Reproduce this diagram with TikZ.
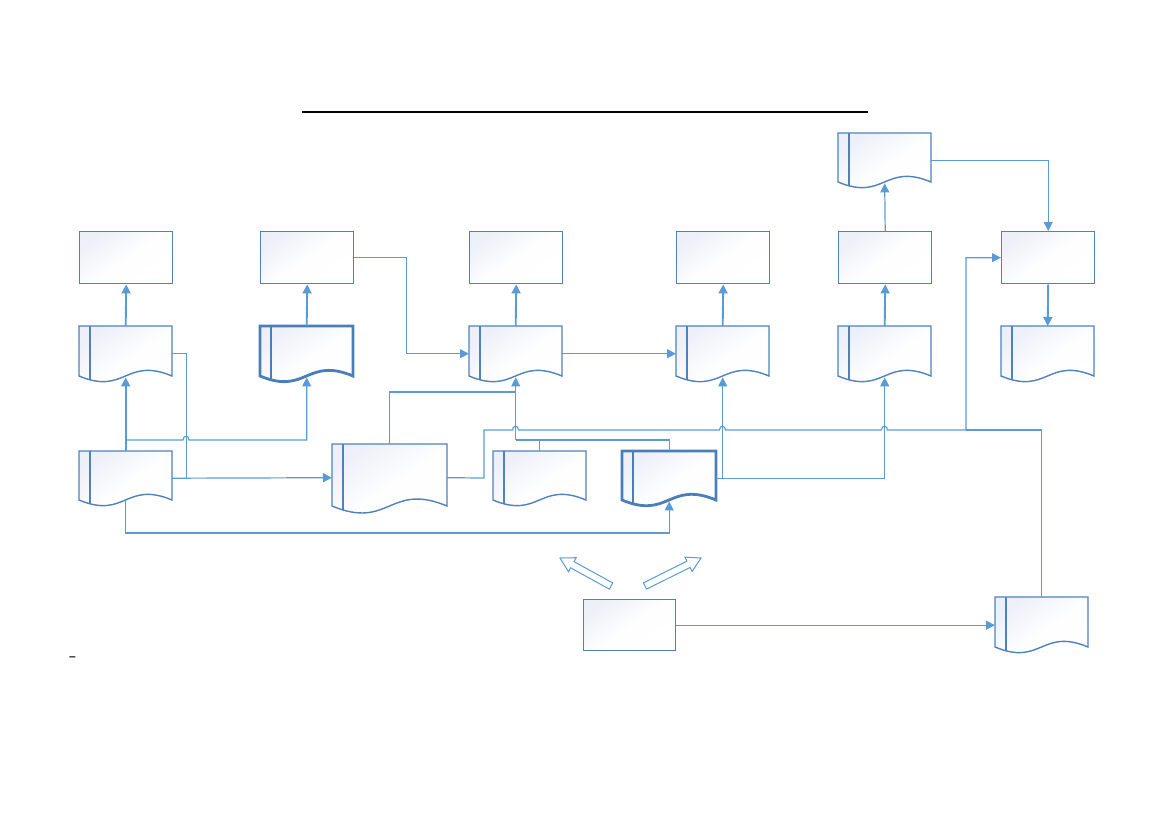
\documentclass[tikz,border=0pt]{standalone}
\usetikzlibrary{arrows.meta,calc}
\definecolor{lineblue}{HTML}{5B9BD5}
\definecolor{boxblue}{HTML}{4F81BD}
\definecolor{boldblue}{HTML}{4A7EB8}
\definecolor{fillblue}{HTML}{EDF0F8}
\tikzset{
 conn/.style={draw=lineblue, line width=1.2pt},
 thickconn/.style={draw=lineblue, line width=1.9pt},
 arr/.style={-{Triangle[length=9pt,width=9pt]}},
 procbox/.style={draw=boxblue, line width=1.4pt, top color=fillblue, bottom color=white, middle color=white!92!fillblue, shading angle=35, minimum width=93pt, minimum height=52pt, anchor=north west, inner sep=0pt},
 docanchor/.style={draw=none, anchor=north west, inner sep=0pt},
 docthin/.style={draw=boxblue, line width=1.4pt},
 docbold/.style={draw=boldblue, line width=2.8pt},
 hollow/.style={draw=lineblue, line width=1pt, fill=white, line join=miter},
}
\newcommand{\docnode}[6]{%
 \path[#6, top color=fillblue, bottom color=white, middle color=white!92!fillblue, shading angle=35] (#2,#3) -- ({#2+#4},#3) -- ({#2+#4},{#3+#5}) .. controls ({#2+#4/2},{#3+#5-#4*0.21}) and ({#2+#4/2},{#3+#5+#4*0.21}) .. (#2,{#3+#5}) -- cycle;
 \draw[#6] ({#2+11},#3) -- ({#2+11},{#3+#5+4});
 \node[docanchor, minimum width=#4pt, minimum height=#5pt+5pt] (#1) at (#2,#3) {};
}
\begin{document}
\begin{tikzpicture}[x=1pt,y=-1pt]
\useasboundingbox (0,0) rectangle (1169,827);
% title rule
\draw[black, line width=1.6pt] (302,112) -- (868,112);
% process boxes
\node[procbox] (r1) at (79,231) {};
\node[procbox] (r2) at (260,231) {};
\node[procbox] (r3) at (469,231) {};
\node[procbox] (r4) at (676,231) {};
\node[procbox] (r5) at (838,231) {};
\node[procbox] (r6) at (1001,231) {};
\node[procbox, minimum width=92pt, minimum height=51pt] (r7) at (583,599) {};
% documents
\docnode{d0}{838}{133}{93}{49}{docthin}
\docnode{d1}{79}{326}{93}{50}{docthin}
\docnode{d2}{260}{326}{93}{50}{docbold}
\docnode{d3}{469}{326}{93}{50}{docthin}
\docnode{d4}{676}{326}{93}{50}{docthin}
\docnode{d5}{838}{326}{93}{50}{docthin}
\docnode{d6}{1001}{326}{93}{50}{docthin}
\docnode{d7}{79}{451}{93}{49}{docthin}
\docnode{d8}{332}{444}{115}{62}{docthin}
\docnode{d9}{493}{451}{93}{49}{docthin}
\docnode{d10}{622}{451}{94}{49}{docbold}
\docnode{d11}{995}{597}{93}{50}{docthin}
% short vertical arrows
\draw[thickconn,arr] (d1.north) -- (r1.south);
\draw[thickconn,arr] (d2.north) -- (r2.south);
\draw[thickconn,arr] (d3.north) -- (r3.south);
\draw[thickconn,arr] (d4.north) -- (r4.south);
\draw[thickconn,arr] (d5.north) -- (r5.south);
\draw[conn,arr] (r5.north) -- ([yshift=4pt]d0.south);
\draw[conn,arr] (d0.east) -| (r6.north);
\draw[thickconn,arr] (r6.south) -- (d6.north);
% row links
\draw[conn,arr] (r2.east) -- ++(52,0) |- (d3.west);
\draw[conn,arr] (d3.east) -- (d4.west);
% D1 right into D7-D8 line
\draw[conn] (d1.east) -- ++(14,0) |- (d7.east);
\draw[conn,arr] (d7.east) -- (d8.west);
% D7 up to D1 and branch to D2
\draw[thickconn,arr] (d7.north) -- ([yshift=4pt]d1.south);
\draw[conn,arr] (d7.north |- 0,440) -- (183,440) .. controls (183,435) and (189,435) .. (189,440) -| ([yshift=4pt]d2.south);
% D7 bottom to D10 bottom
\draw[conn,arr] ([yshift=4pt]d7.south) -- (d7.south |- 0,533) -| ([yshift=4pt]d10.south);
% D8, D9, D10 tops to D3 bottom
\draw[conn] (d8.north) -- (d8.north |- 0,392) -- (d3.south |- 0,392);
\draw[conn,arr] (d3.south |- 0,440) -- ([yshift=4pt]d3.south);
\draw[conn] (d9.north) -- (d9.north |- 0,440) -- (d3.south |- 0,440);
\draw[conn] (d10.north) -- (d10.north |- 0,440) -- (d9.north |- 0,440);
% D8 right to R6 with hops
\draw[conn,arr] (d8.east) -- (484,478) -- (484,430) -- (512.5,430) .. controls (512.5,425) and (518.5,425) .. (518.5,430)
  -- (719.5,430) .. controls (719.5,425) and (725.5,425) .. (725.5,430)
  -- (881.5,430) .. controls (881.5,425) and (887.5,425) .. (887.5,430)
  -- (966,430) |- (r6.west);
\draw[conn] (d11.north) -- (d11.north |- 0,430) -- (966,430);
% D10 right to D4 and D5
\draw[conn,arr] (d10.east) -| ([yshift=4pt]d4.south);
\draw[conn,arr] (d10.east) -| ([yshift=4pt]d5.south);
% R7 to D11
\draw[conn,arr] (r7.east) -- (r7.east -| d11.west);
% hollow arrows
\draw[hollow] (612.7,582.9) -- (574.0,561.6) -- (576.1,557.7) -- (560,558) -- (568.5,571.7) -- (570.6,567.8) -- (609.3,589.1) -- cycle;
\draw[hollow] (646.6,589.1) -- (690.1,567.4) -- (692.1,571.5) -- (701,558) -- (684.9,557.1) -- (686.9,561.2) -- (643.4,582.9) -- cycle;
% dash
\node[font=\fontsize{24}{26}\selectfont, inner sep=0pt] (dash) at (73,660) {-};
\end{tikzpicture}
\end{document}
